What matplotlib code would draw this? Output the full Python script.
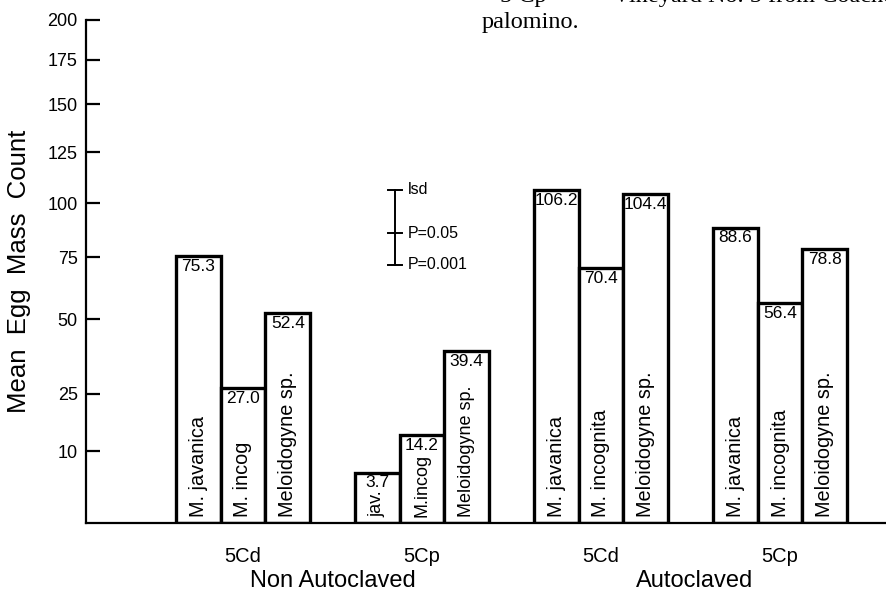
import numpy as np
import matplotlib
matplotlib.use("Agg")
import matplotlib.pyplot as plt
import matplotlib.transforms as mtransforms

plt.rcParams['font.family'] = ['Liberation Sans', 'DejaVu Sans']

# mean egg mass counts per soil / treatment group
groups = ["5Cd", "5Cp", "5Cd", "5Cp"]
javanica = [75.3, 3.7, 106.2, 88.6]
incognita = [27.0, 14.2, 70.4, 56.4]
meloidogyne = [52.4, 39.4, 104.4, 78.8]
bar_names = [
    ["M. javanica", "M. incog", "Meloidogyne sp."],
    ["jav.", "M.incog", "Meloidogyne sp."],
    ["M. javanica", "M. incognita", "Meloidogyne sp."],
    ["M. javanica", "M. incognita", "Meloidogyne sp."],
]
yticks = [10, 25, 50, 75, 100, 125, 150, 175, 200]
treatments = ["Non Autoclaved", "Autoclaved"]
lsd_levels = [106.4, 86.1, 71.8]
lsd_labels = ["lsd", "P=0.05", "P=0.001"]

# the printed axis is stretched unevenly (low end expanded); calibrate it
cal_val = np.array([0, 3, 10, 25, 50, 75, 100, 125, 150, 175, 200], dtype=float)
cal_pos = np.array([0, 48, 72, 129, 204, 266, 320, 371, 419, 463, 503], dtype=float)


def fwd(v):
    return np.interp(v, cal_val, cal_pos)


def inv(p):
    return np.interp(p, cal_pos, cal_val)


fig = plt.figure(figsize=(8.87, 5.92), dpi=100)
ax = fig.add_axes([86 / 887, 1 - 523 / 592, 1 - 86 / 887, 503 / 592])
ax.set_yscale('function', functions=(fwd, inv))
ax.set_ylim(0, 200)

unit = 44.75
ax.set_xlim(-157 / unit, (887 - 243) / unit)

centers = np.arange(len(groups)) * 4.0
series = [javanica, incognita, meloidogyne]
for k, vals in enumerate(series):
    xs = centers + (k - 1)
    ax.bar(xs, vals, width=1.0, facecolor='white', edgecolor='black',
           linewidth=2.4, zorder=2)
    for g, (x, v) in enumerate(zip(xs, vals)):
        ax.annotate(f"{v:.1f}", (x, v), xytext=(0, -2), textcoords='offset points',
                    ha='center', va='top', fontsize=12.5, zorder=3)
        name = bar_names[g][k]
        size = 13 if g == 1 else 14.3
        ax.text(x, 0.012, name, rotation=90, ha='center', va='bottom',
                fontsize=size, transform=ax.get_xaxis_transform(), zorder=3)

ax.set_xticks(centers)
ax.set_xticklabels(groups, fontsize=14.5)
ax.tick_params(axis='x', length=0, pad=17)

ax.set_yticks(yticks)
ax.set_yticklabels([str(t) for t in yticks], fontsize=13)
ax.yaxis.set_minor_locator(matplotlib.ticker.NullLocator())
ax.tick_params(axis='y', direction='in', length=10, width=1.6, pad=6)

for s in ['top', 'right']:
    ax.spines[s].set_visible(False)
for s in ['left', 'bottom']:
    ax.spines[s].set_linewidth(1.6)

ax.set_ylabel("Mean  Egg  Mass  Count", fontsize=18.5, labelpad=12)

# treatment labels centred under each pair of groups
blend = mtransforms.blended_transform_factory(ax.transData, ax.transAxes)
ax.text((centers[0] + centers[1]) / 2, -0.115, treatments[0], ha='center', va='center',
        fontsize=17, transform=blend)
ax.text((centers[2] + centers[3]) / 2 + 0.1, -0.115, treatments[1], ha='center', va='center',
        fontsize=17, transform=blend)

# lsd scale bar
lx = (395 - 243) / unit
ax.plot([lx, lx], [lsd_levels[0], lsd_levels[2]], color='black', lw=1.4, zorder=3)
for lv, lab in zip(lsd_levels, lsd_labels):
    ax.plot([lx - 0.16, lx + 0.16], [lv, lv], color='black', lw=1.4, zorder=3)
    ax.text(lx + 0.28, lv, lab, ha='left', va='center', fontsize=11.5)

# running text from the page above the figure
fig.text(500 / 887, 1 - 2 / 592, "5 Cp", family='Liberation Serif', fontsize=17.5,
         ha='left', va='baseline')
fig.text(613 / 887, 1 - 2 / 592, "Vineyard No. 5 from Coachella", family='Liberation Serif',
         fontsize=17.5, ha='left', va='baseline')
fig.text(482 / 887, 1 - 28 / 592, "palomino.", family='Liberation Serif', fontsize=17.5,
         ha='left', va='baseline')

fig.savefig("out.png", dpi=100)
